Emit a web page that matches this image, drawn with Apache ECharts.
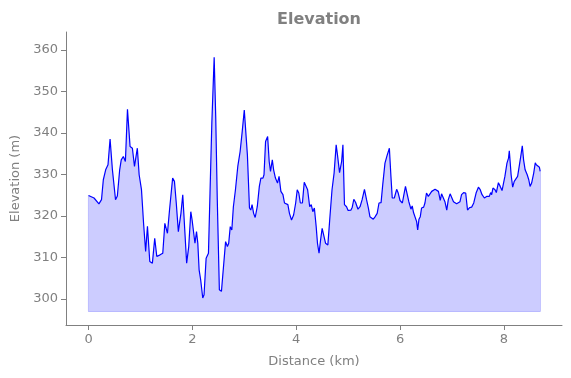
<!DOCTYPE html>
<html>
<head>
<meta charset="utf-8">
<script src="https://cdn.jsdelivr.net/npm/echarts@6/dist/echarts.min.js"></script>
<style>
  html, body { margin: 0; padding: 0; background: #fff; }
  #chart { width: 571px; height: 378px; }
</style>
</head>
<body>
<div id="chart"></div>
<script>
// distance along the route (km)
const distance = [
  0, 0.106, 0.2, 0.25, 0.285, 0.33, 0.375, 0.415, 0.46, 0.52, 0.555, 0.6, 0.63, 0.67, 0.71,
  0.75, 0.8, 0.845, 0.885, 0.94, 0.975, 1.02, 1.06, 1.1, 1.135, 1.18, 1.23, 1.275, 1.315, 1.378,
  1.43, 1.47, 1.52, 1.56, 1.62, 1.655, 1.69, 1.73, 1.78, 1.815, 1.84, 1.89, 1.93, 1.97, 1.995,
  2.02, 2.05, 2.08, 2.105, 2.13, 2.16, 2.2, 2.225, 2.265, 2.31, 2.34, 2.375, 2.42, 2.45, 2.48,
  2.52, 2.56, 2.6, 2.64, 2.675, 2.7, 2.73, 2.76, 2.79, 2.83, 2.875, 2.92, 2.96, 3.0, 3.03,
  3.06, 3.1, 3.125, 3.15, 3.18, 3.21, 3.25, 3.29, 3.32, 3.36, 3.38, 3.41, 3.45, 3.48, 3.505,
  3.54, 3.565, 3.6, 3.64, 3.67, 3.705, 3.745, 3.775, 3.81, 3.84, 3.87, 3.91, 3.95, 3.99, 4.02,
  4.05, 4.08, 4.12, 4.155, 4.19, 4.22, 4.26, 4.29, 4.32, 4.35, 4.385, 4.41, 4.44, 4.47, 4.5,
  4.535, 4.565, 4.61, 4.65, 4.69, 4.73, 4.77, 4.795, 4.835, 4.875, 4.9, 4.93, 4.97, 5.0, 5.055,
  5.08, 5.11, 5.145, 5.19, 5.23, 5.27, 5.315, 5.355, 5.39, 5.42, 5.45, 5.485, 5.515, 5.56, 5.595,
  5.635, 5.67, 5.71, 5.75, 5.775, 5.795, 5.825, 5.85, 5.89, 5.935, 5.965, 6.0, 6.045, 6.08, 6.105,
  6.14, 6.17, 6.21, 6.235, 6.26, 6.29, 6.32, 6.34, 6.365, 6.39, 6.415, 6.455, 6.48, 6.51, 6.545,
  6.575, 6.61, 6.64, 6.675, 6.705, 6.74, 6.775, 6.8, 6.835, 6.865, 6.9, 6.93, 6.965, 6.995, 7.03,
  7.06, 7.09, 7.12, 7.155, 7.185, 7.225, 7.265, 7.3, 7.34, 7.38, 7.42, 7.465, 7.51, 7.545, 7.58,
  7.625, 7.675, 7.72, 7.745, 7.765, 7.79, 7.83, 7.855, 7.895, 7.93, 7.965, 7.995, 8.02, 8.06, 8.09,
  8.105, 8.14, 8.17, 8.2, 8.235, 8.265, 8.3, 8.33, 8.355, 8.38, 8.41, 8.45, 8.48, 8.505, 8.535,
  8.575, 8.605, 8.625, 8.65, 8.685, 8.7
];

// elevation at each distance (m)
const elevation = [
  324.9, 324.3, 322.9, 323.9, 328.7, 331.1, 332.3, 338.5, 331.1, 323.9, 324.8, 331.1, 333.5, 334.3, 333.1,
  345.7, 336.7, 336.3, 331.9, 336.3, 329.9, 326.3, 318.2, 311.4, 317.5, 309.0, 308.6, 314.6, 310.2, 310.6,
  311.0, 318.2, 315.8, 321.4, 329.1, 328.3, 323.1, 316.2, 320.6, 325.1, 324.7, 308.6, 312.6, 321.0, 319.0,
  318.6, 313.4, 316.2, 313.4, 307.0, 304.6, 300.2, 301.0, 309.8, 311.0, 325.5, 342.3, 358.2, 343.9, 323.9,
  302.2, 301.8, 307.8, 313.8, 312.6, 313.4, 317.4, 316.6, 322.2, 326.3, 331.9, 335.5, 340.3, 345.5, 345.1,
  334.7, 321.9, 321.4, 322.7, 320.6, 319.6, 322.2, 327.1, 329.1, 329.1, 329.9, 337.9, 339.1, 333.1, 330.7,
  333.5, 331.1, 329.1, 327.9, 329.5, 325.9, 325.1, 323.1, 323.4, 322.7, 320.6, 319.0, 320.2, 323.1, 326.3,
  325.5, 323.1, 323.1, 328.1, 328.3, 326.3, 322.2, 322.7, 321.0, 321.9, 317.4, 313.4, 311.0, 314.2, 317.0,
  317.3, 313.4, 313.0, 319.8, 326.3, 330.3, 337.1, 334.7, 330.4, 333.1, 337.1, 322.7, 322.2, 321.3, 321.4,
  322.1, 324.0, 323.2, 321.6, 322.2, 323.9, 326.4, 323.9, 321.9, 319.8, 319.4, 319.2, 319.7, 320.6, 323.1,
  323.2, 327.9, 332.7, 334.5, 334.7, 336.3, 329.5, 324.3, 324.3, 326.4, 325.5, 323.7, 323.1, 325.5, 327.1,
  325.1, 323.4, 321.6, 322.4, 320.8, 320.6, 318.6, 316.6, 319.2, 319.8, 321.9, 322.1, 323.1, 325.5, 324.7,
  325.1, 325.9, 325.6, 326.4, 326.7, 325.9, 323.7, 325.3, 325.6, 323.4, 321.4, 323.9, 325.3, 325.5, 323.4,
  323.2, 322.9, 322.7, 323.4, 325.1, 325.6, 325.5, 321.4, 322.0, 322.1, 323.1, 325.5, 326.9, 326.3, 325.1,
  324.3, 324.7, 324.7, 325.6, 325.1, 326.7, 326.3, 325.6, 328.0, 327.1, 326.1, 326.3, 329.5, 332.7, 333.9,
  335.7, 329.9, 326.9, 328.3, 328.7, 329.5, 332.3, 334.7, 336.9, 333.5, 331.1, 329.9, 328.7, 327.1, 327.9,
  330.3, 332.8, 332.3, 332.7, 331.7, 330.7
];

// level the filled area is drawn down to
const baseline = 297;

const xTicks = [0, 2, 4, 6, 8];
const yTicks = [300, 310, 320, 330, 340, 350, 360];

const profile = distance.map((d, i) => [d, elevation[i]]);
const last = distance.length - 1;
const outline = [
  [distance[0], elevation[0]],
  [distance[0], baseline],
  [distance[last], baseline],
  [distance[last], elevation[last]]
];

const grey = "#808080";
const font = "DejaVu Sans";

const chart = echarts.init(document.getElementById("chart"));
chart.setOption({
  animation: false,
  title: {
    text: "Elevation",
    left: 314,
    top: 7,
    textAlign: "center",
    textStyle: { color: grey, fontFamily: font, fontWeight: "bold", fontSize: 16 }
  },
  grid: { left: 66, right: 9, top: 32, bottom: 53 },
  xAxis: {
    type: "value",
    min: -0.434,
    max: 9.12,
    name: "Distance (km)",
    nameLocation: "middle",
    nameGap: 30,
    nameTextStyle: { color: grey, fontFamily: font, fontSize: 13 },
    axisLine: { onZero: false, lineStyle: { color: grey, width: 1 } },
    axisTick: { show: true, length: 5, lineStyle: { color: grey }, customValues: xTicks },
    axisLabel: { color: grey, fontFamily: font, fontSize: 13, margin: 8, customValues: xTicks },
    splitLine: { show: false }
  },
  yAxis: {
    type: "value",
    min: 293.7,
    max: 364.3,
    name: "Elevation (m)",
    nameLocation: "middle",
    nameGap: 43,
    nameTextStyle: { color: grey, fontFamily: font, fontSize: 13 },
    axisLine: { show: true, onZero: false, lineStyle: { color: grey, width: 1 } },
    axisTick: { show: true, length: 5, lineStyle: { color: grey }, customValues: yTicks },
    axisLabel: { color: grey, fontFamily: font, fontSize: 13, margin: 8, customValues: yTicks },
    splitLine: { show: false }
  },
  series: [
    {
      name: "fill edge",
      type: "line",
      data: outline,
      showSymbol: false,
      silent: true,
      lineStyle: { color: "#b3b3ff", width: 1.2 },
      z: 1
    },
    {
      name: "Elevation",
      type: "line",
      data: profile,
      showSymbol: false,
      lineStyle: { color: "#0000ff", width: 1.2 },
      areaStyle: { color: "#ccccff", opacity: 1, origin: baseline },
      z: 2
    }
  ]
});
</script>
</body>
</html>
